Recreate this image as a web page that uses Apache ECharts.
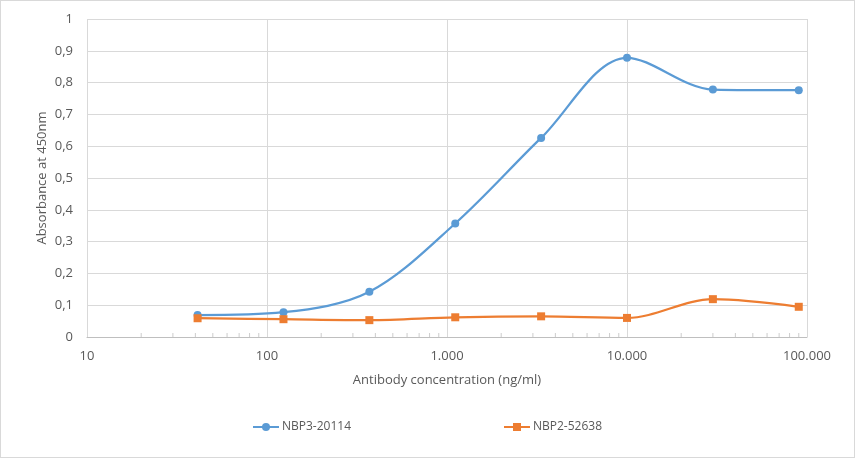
<!DOCTYPE html>
<html>
<head>
<meta charset="utf-8">
<script src="https://cdn.jsdelivr.net/npm/echarts@6/dist/echarts.min.js"></script>
<style>
  html, body { margin: 0; padding: 0; background: #fff; }
  #main { width: 855px; height: 458px; box-sizing: border-box; border: 1px solid #d9d9d9; }
</style>
</head>
<body>
<div id="main"></div>
<script>
// antibody concentration (ng/ml), 1:3 dilution series
var concentrations = [41.15, 123.46, 370.37, 1111.1, 3333.3, 10000, 30000, 90000];
var nbp3Values = [0.069, 0.078, 0.142, 0.357, 0.626, 0.878, 0.778, 0.776];
var nbp2Values = [0.059, 0.056, 0.053, 0.062, 0.065, 0.060, 0.119, 0.095];
var seriesNames = ['NBP3-20114', 'NBP2-52638'];
var xTicks = [10, 100, 1000, 10000, 100000];
// minor tick marks on the log axis (2..9 in each decade)
var minorTicks = [];
xTicks.slice(0, -1).forEach(function (d) {
    for (var k = 2; k <= 9; k++) minorTicks.push([d * k, 0]);
});

function pairs(xs, ys) {
    return xs.map(function (x, i) { return [x, ys[i]]; });
}

var font = '"Open Sans", "Noto Sans", sans-serif';
var textColor = '#595959';

var myChart = echarts.init(document.getElementById('main'));

function legendAt(name, left) {
    return {
        data: [name],
        left: left, top: 420,
        padding: 0,
        itemWidth: 26, itemHeight: 10, itemGap: 0,
        textStyle: { fontFamily: font, fontSize: 12, color: textColor, padding: [0, 0, 0, -2] }
    };
}

var option = {
    animation: false,
    textStyle: { fontFamily: font, color: textColor },
    grid: { left: 86, right: 47, top: 18, bottom: 120 },
    legend: [legendAt(seriesNames[0], 251), legendAt(seriesNames[1], 502)],
    xAxis: {
        type: 'log',
        logBase: 10,
        min: 10,
        max: 100000,
        name: 'Antibody concentration (ng/ml)',
        nameLocation: 'middle',
        nameGap: 37,
        nameMoveOverlap: false,
        nameTextStyle: { fontSize: 13, color: textColor, fontFamily: font },
        axisLine: { lineStyle: { color: '#bfbfbf', width: 1 } },
        axisTick: { show: false },
        axisLabel: {
            fontSize: 13, color: textColor, fontFamily: font, margin: 13,
            formatter: function (v) {
                return String(Math.round(v)).replace(/\B(?=(\d{3})+(?!\d))/g, '.');
            }
        },
        splitLine: { show: true, lineStyle: { color: '#d9d9d9', width: 1 } }
    },
    yAxis: {
        type: 'value',
        min: 0,
        max: 1,
        interval: 0.1,
        name: 'Absorbance at 450nm',
        nameLocation: 'middle',
        nameGap: 38,
        nameMoveOverlap: false,
        nameTextStyle: { fontSize: 13, color: textColor, fontFamily: font },
        axisLine: { show: false },
        axisTick: { show: false },
        axisLabel: {
            fontSize: 13, color: textColor, fontFamily: font, margin: 14,
            formatter: function (v) {
                return String(+v.toFixed(1)).replace('.', ',');
            }
        },
        splitLine: { lineStyle: { color: '#d9d9d9', width: 1 } }
    },
    series: [{
        name: 'minor ticks',
        type: 'scatter',
        data: minorTicks,
        symbol: 'rect',
        symbolSize: [1, 4],
        symbolOffset: [0, -2],
        itemStyle: { color: '#bfbfbf' },
        silent: true,
        z: 1
    }, {
        name: seriesNames[0],
        type: 'line',
        data: pairs(concentrations, nbp3Values),
        smooth: 0.33,
        symbol: 'circle',
        symbolSize: 8,
        lineStyle: { color: '#5b9bd5', width: 2.25 },
        itemStyle: { color: '#5b9bd5' },
        z: 3
    }, {
        name: seriesNames[1],
        type: 'line',
        data: pairs(concentrations, nbp2Values),
        smooth: 0.33,
        symbol: 'rect',
        symbolSize: 8,
        lineStyle: { color: '#ed7d31', width: 2.25 },
        itemStyle: { color: '#ed7d31' },
        z: 4
    }]
};

myChart.setOption(option);
</script>
</body>
</html>
